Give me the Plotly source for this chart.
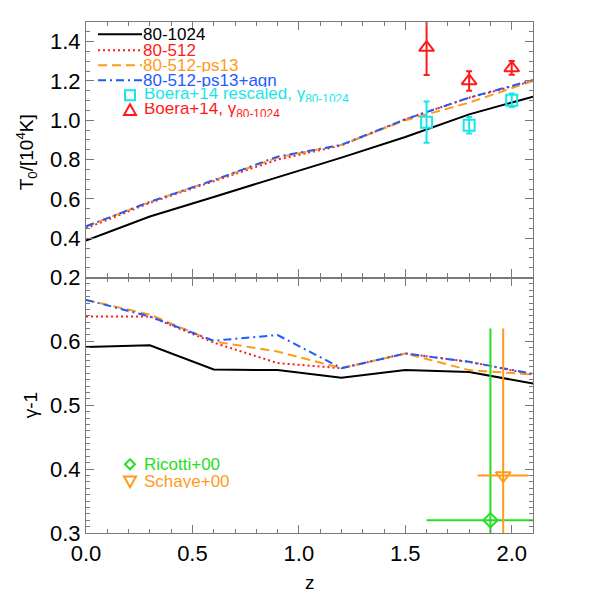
import plotly.graph_objects as go
from plotly.subplots import make_subplots

# simulation snapshots
z_sim = [0.0, 0.3, 0.6, 0.9, 1.2, 1.5, 1.8, 2.1]
t0_1024 = [0.388, 0.51, 0.61, 0.71, 0.81, 0.915, 1.03, 1.12]
t0_512 = [0.45, 0.58, 0.69, 0.80, 0.872, 1.005, 1.115, 1.20]
t0_ps13 = [0.46, 0.585, 0.695, 0.81, 0.875, 1.0, 1.09, 1.20]
t0_agn = [0.46, 0.585, 0.695, 0.815, 0.875, 1.005, 1.115, 1.205]

g_1024 = [0.591, 0.594, 0.556, 0.555, 0.543, 0.555, 0.552, 0.534]
g_512 = [0.639, 0.639, 0.598, 0.566, 0.558, 0.581, 0.568, 0.548]
g_ps13 = [0.665, 0.642, 0.600, 0.584, 0.558, 0.581, 0.555, 0.548]
g_agn = [0.665, 0.639, 0.601, 0.610, 0.558, 0.581, 0.568, 0.549]

# observations
z_boera = [1.6, 1.8, 2.0]
t0_boera = [1.37, 1.20, 1.266]
t0_boera_err = [0.14, 0.05, 0.035]
t0_boera_resc = [0.99, 0.975, 1.102]
t0_boera_resc_err = [0.105, 0.042, 0.034]

z_ricotti = [1.9]
z_ricotti_err = [0.3]
g_ricotti = [0.32]
g_ricotti_err = [0.30]

z_schaye = [1.96]
z_schaye_err = [0.12]
g_schaye = [0.39]
g_schaye_err = [0.23]

BLACK = '#000000'
RED = '#ff1a1a'
ORANGE = '#ff9a1a'
BLUE = '#1f5cff'
CYAN = '#19e6e6'
GREEN = '#22e022'
AXC = '#7a7a7a'
FONT = 'Liberation Sans, Arial, sans-serif'

sim_lines = [
    ('80-1024', t0_1024, g_1024, BLACK, 'solid'),
    ('80-512', t0_512, g_512, RED, '2px,3px'),
    ('80-512-ps13', t0_ps13, g_ps13, ORANGE, '9px,5px'),
    ('80-512-ps13+agn', t0_agn, g_agn, BLUE, '8px,4px,2px,4px'),
]

fig = make_subplots(rows=2, cols=1, shared_xaxes=True, vertical_spacing=0)

for name, t0, g, col, dash in sim_lines:
    fig.add_trace(go.Scatter(x=z_sim, y=t0, mode='lines', name=name,
                             line=dict(color=col, width=2, dash=dash),
                             showlegend=False), row=1, col=1)
    fig.add_trace(go.Scatter(x=z_sim, y=g, mode='lines', name=name,
                             line=dict(color=col, width=2, dash=dash),
                             showlegend=False), row=2, col=1)

fig.add_trace(go.Scatter(
    x=z_boera, y=t0_boera_resc, mode='markers', showlegend=False,
    marker=dict(symbol='square-open', size=11, color=CYAN, line=dict(width=2)),
    error_y=dict(type='data', array=t0_boera_resc_err, color=CYAN, thickness=2, width=3)),
    row=1, col=1)
fig.add_trace(go.Scatter(
    x=z_boera, y=t0_boera, mode='markers', showlegend=False,
    marker=dict(symbol='triangle-up-open', size=13, color=RED, line=dict(width=2)),
    error_y=dict(type='data', array=t0_boera_err, color=RED, thickness=2, width=3)),
    row=1, col=1)

fig.add_trace(go.Scatter(
    x=z_ricotti, y=g_ricotti, mode='markers', showlegend=False,
    marker=dict(symbol='diamond-open', size=11, color=GREEN, line=dict(width=2)),
    error_x=dict(type='data', array=z_ricotti_err, color=GREEN, thickness=2, width=0),
    error_y=dict(type='data', array=g_ricotti_err, color=GREEN, thickness=2, width=0)),
    row=2, col=1)
fig.add_trace(go.Scatter(
    x=z_schaye, y=g_schaye, mode='markers', showlegend=False,
    marker=dict(symbol='triangle-down-open', size=13, color=ORANGE, line=dict(width=2)),
    error_x=dict(type='data', array=z_schaye_err, color=ORANGE, thickness=2, width=0),
    error_y=dict(type='data', array=g_schaye_err, color=ORANGE, thickness=2, width=0)),
    row=2, col=1)

# pixel -> paper helpers for the hand-drawn legends
L, R, T, B = 86, 533, 21.7, 532.7


def px(x):
    return (x - L) / (R - L)


def py(y):
    return (B - y) / (B - T)


shapes = []
annotations = []


def legend_text(x, y, text, col):
    annotations.append(dict(x=px(x), y=py(y), xref='paper', yref='paper', text=text,
                            showarrow=False, xanchor='left', yanchor='middle',
                            height=14,
                            font=dict(family=FONT, size=17, color=col)))


row_y = [34, 50, 65, 80, 95, 110]
for (name, _, _, col, dash), y in zip(sim_lines, row_y):
    shapes.append(dict(type='line', xref='paper', yref='paper',
                       x0=px(98), x1=px(142), y0=py(y), y1=py(y),
                       line=dict(color=col, width=2, dash=dash)))
    legend_text(141, y, name, col)


def sym_path(kind, cx, cy, s):
    if kind == 'square':
        return f'M{px(cx - s)},{py(cy - s)} L{px(cx + s)},{py(cy - s)} L{px(cx + s)},{py(cy + s)} L{px(cx - s)},{py(cy + s)} Z'
    if kind == 'up':
        return f'M{px(cx)},{py(cy - s)} L{px(cx + s)},{py(cy + s * 0.8)} L{px(cx - s)},{py(cy + s * 0.8)} Z'
    if kind == 'down':
        return f'M{px(cx)},{py(cy + s)} L{px(cx + s)},{py(cy - s * 0.8)} L{px(cx - s)},{py(cy - s * 0.8)} Z'
    return f'M{px(cx)},{py(cy - s)} L{px(cx + s)},{py(cy)} L{px(cx)},{py(cy + s)} L{px(cx - s)},{py(cy)} Z'


obs_legend = [
    ('square', 95, 'Boera+14 rescaled, γ<sub>80-1024</sub>', CYAN, 5),
    ('up', 110, 'Boera+14, γ<sub>80-1024</sub>', RED, 6),
    ('diamond', 464, 'Ricotti+00', GREEN, 5),
    ('down', 481, 'Schaye+00', ORANGE, 6),
]
for kind, y, text, col, s in obs_legend:
    shapes.append(dict(type='path', xref='paper', yref='paper', path=sym_path(kind, 130, y, s),
                       line=dict(color=col, width=2)))
    legend_text(142, y, text, col)

title_font = dict(family=FONT, size=19, color='black')
annotations.append(dict(x=px(26), y=py(152), xref='paper', yref='paper',
                        text='T<sub>0</sub>/[10<sup>4</sup>K]', textangle=-90, showarrow=False,
                        xanchor='center', yanchor='middle', font=title_font))
annotations.append(dict(x=px(30), y=py(405), xref='paper', yref='paper',
                        text='γ-1', textangle=-90, showarrow=False,
                        xanchor='center', yanchor='middle', font=title_font))
annotations.append(dict(x=px(310), y=py(582), xref='paper', yref='paper',
                        text='z', showarrow=False,
                        xanchor='center', yanchor='middle', font=title_font))

axis_style = dict(showline=True, linecolor=AXC, linewidth=1.2, mirror='allticks',
                  ticks='inside', tickcolor=AXC, ticklen=8, tickwidth=1.2,
                  showgrid=False, zeroline=False,
                  tickfont=dict(family=FONT, size=22, color='black'))

fig.update_xaxes(range=[0, 2.1], dtick=0.5, tick0=0, tickformat='.1f',
                 minor=dict(dtick=0.1, ticklen=4, ticks='inside', tickcolor=AXC),
                 **axis_style)
fig.update_xaxes(showticklabels=False, row=1, col=1)
fig.update_yaxes(range=[0.2, 1.5], tickvals=[0.2, 0.4, 0.6, 0.8, 1.0, 1.2, 1.4],
                 tickformat='.1f',
                 minor=dict(dtick=0.05, ticklen=4, ticks='inside', tickcolor=AXC),
                 row=1, col=1, **axis_style)
fig.update_yaxes(range=[0.3, 0.7], tickvals=[0.3, 0.4, 0.5, 0.6], tickformat='.1f',
                 minor=dict(dtick=0.01, ticklen=4, ticks='inside', tickcolor=AXC),
                 row=2, col=1, **axis_style)

fig.update_layout(
    width=598, height=598,
    margin=dict(l=L, r=598 - R, t=T, b=598 - B),
    plot_bgcolor='white', paper_bgcolor='white',
    showlegend=False,
    shapes=shapes,
    annotations=annotations,
    font=dict(family=FONT),
)

fig.write_html("out.html", config={'displayModeBar': False},
               post_script="document.body.style.margin='0';")
